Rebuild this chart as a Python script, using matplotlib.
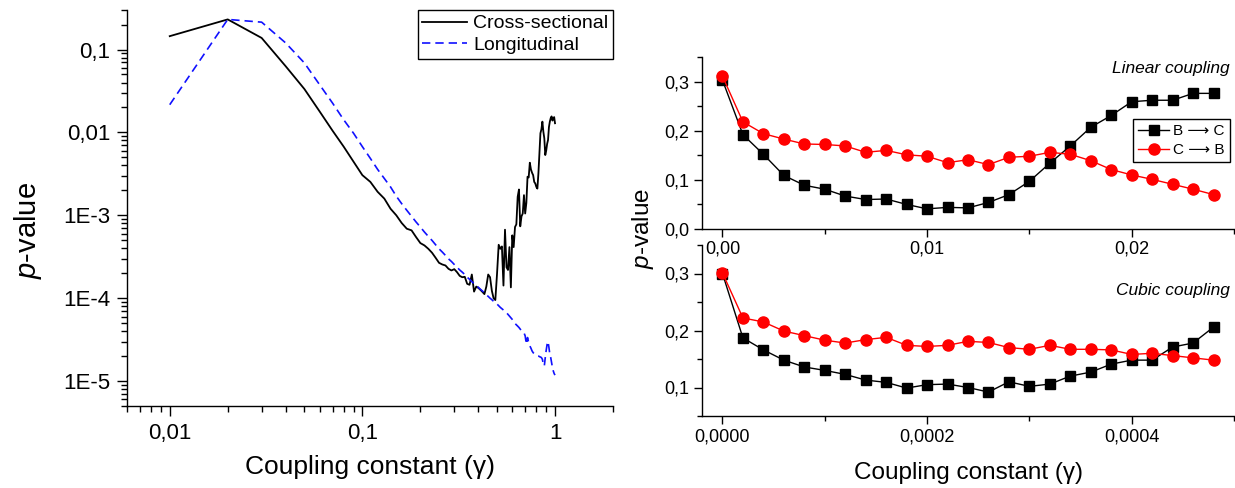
import matplotlib
matplotlib.use("Agg")
import matplotlib.pyplot as plt
from matplotlib.ticker import FixedLocator, FuncFormatter, MultipleLocator, LogLocator, NullFormatter

plt.rcParams['font.family'] = ['Liberation Sans', 'DejaVu Sans']
plt.rcParams['mathtext.fontset'] = 'custom'
plt.rcParams['mathtext.rm'] = 'Liberation Sans'
plt.rcParams['mathtext.it'] = 'Liberation Sans:italic'

# ---------------- data: left panel ----------------
gamma_left = [round(0.01 * i, 2) for i in range(1, 101)]
cross_sectional = [
    0.145, 0.231, 0.138, 0.0628, 0.0334, 0.0179, 0.0105, 0.00673, 0.00443, 0.00305,
    0.00253, 0.00192, 0.00159, 0.00120, 0.00100, 0.000807, 0.000689, 0.000658, 0.000546, 0.000462,
    0.000433, 0.000394, 0.000353, 0.000307, 0.000267, 0.000255, 0.000248, 0.000226, 0.000216, 0.000224,
    0.000206, 0.000186, 0.000179, 0.000181, 0.000149, 0.000145, 0.000193, 0.000120, 0.000138, 0.000133,
    0.000126, 0.000119, 0.000112, 0.000138, 0.000193, 0.000179, 0.000123, 0.0000995, 0.0000950, 0.000196,
    0.000441, 0.000394, 0.000421, 0.000142, 0.000670, 0.000236, 0.000219, 0.000413, 0.000135, 0.000573,
    0.000413, 0.000722, 0.000778, 0.00167, 0.00205, 0.000736, 0.000973, 0.00105, 0.00175, 0.00105,
    0.00141, 0.00292, 0.00286, 0.00431, 0.00358, 0.00326, 0.00305, 0.00253, 0.00242, 0.00220,
    0.00210, 0.00320, 0.00559, 0.00977, 0.0109, 0.0135, 0.0102, 0.00849, 0.00533, 0.00602,
    0.00726, 0.00811, 0.0116, 0.0135, 0.0149, 0.0156, 0.0139, 0.0149, 0.0153, 0.0129,
]
longitudinal = [
    0.0216, 0.231, 0.214, 0.120, 0.0689, 0.0376, 0.0226, 0.0142, 0.00977, 0.00673,
    0.00486, 0.00358, 0.00278, 0.00220, 0.00170, 0.00138, 0.00115, 0.000973, 0.000830, 0.000722,
    0.000628, 0.000556, 0.000497, 0.000441, 0.000394, 0.000360, 0.000328, 0.000298, 0.000277, 0.000255,
    0.000236, 0.000219, 0.000206, 0.000193, 0.000179, 0.000169, 0.000158, 0.000150, 0.000142, 0.000135,
    0.000128, 0.000122, 0.000116, 0.000110, 0.000105, 0.000100, 0.0000959, 0.0000916, 0.0000882, 0.0000849,
    0.0000811, 0.0000774, 0.0000746, 0.0000719, 0.0000692, 0.0000667, 0.0000637, 0.0000608, 0.0000580, 0.0000554,
    0.0000524, 0.0000495, 0.0000477, 0.0000460, 0.0000443, 0.0000423, 0.0000404, 0.0000393, 0.0000382, 0.0000351,
    0.0000278, 0.0000335, 0.0000292, 0.0000266, 0.0000249, 0.0000231, 0.0000220, 0.0000214, 0.0000210, 0.0000206,
    0.0000203, 0.0000201, 0.0000197, 0.0000195, 0.0000192, 0.0000183, 0.0000159, 0.0000152, 0.0000192, 0.0000235,
    0.0000278, 0.0000300, 0.0000254, 0.0000210, 0.0000192, 0.0000167, 0.0000145, 0.0000132, 0.0000123, 0.0000118,
]
left_xticks = [0.01, 0.1, 1]
left_xticklabels = ["0,01", "0,1", "1"]
left_yticks = [1e-5, 1e-4, 1e-3, 1e-2, 1e-1]
left_yticklabels = ["1E-5", "1E-4", "1E-3", "0,01", "0,1"]

# ---------------- data: right panels ----------------
gamma_linear = [round(0.001 * i, 3) for i in range(25)]
linear_BC = [0.303, 0.192, 0.152, 0.109, 0.089, 0.081, 0.067, 0.060, 0.061, 0.050,
             0.041, 0.044, 0.043, 0.054, 0.070, 0.097, 0.134, 0.169, 0.207, 0.231,
             0.259, 0.262, 0.262, 0.276, 0.276]
linear_CB = [0.311, 0.218, 0.194, 0.183, 0.173, 0.172, 0.169, 0.156, 0.160, 0.151,
             0.148, 0.135, 0.141, 0.131, 0.146, 0.148, 0.156, 0.152, 0.139, 0.121,
             0.110, 0.101, 0.091, 0.081, 0.070]
gamma_cubic = [round(0.00002 * i, 5) for i in range(25)]
cubic_BC = [0.300, 0.187, 0.166, 0.148, 0.136, 0.130, 0.123, 0.113, 0.109, 0.099,
            0.105, 0.106, 0.100, 0.092, 0.110, 0.102, 0.106, 0.120, 0.127, 0.141,
            0.148, 0.148, 0.171, 0.178, 0.206]
cubic_CB = [0.301, 0.222, 0.215, 0.199, 0.191, 0.183, 0.178, 0.184, 0.188, 0.174,
            0.172, 0.174, 0.181, 0.179, 0.170, 0.167, 0.174, 0.167, 0.167, 0.166,
            0.158, 0.160, 0.156, 0.152, 0.148]
series_labels = ["B \u27f6 C", "C \u27f6 B"]

W, H = 1235, 488
fig = plt.figure(figsize=(W / 100, H / 100), dpi=100)

def fr(x0, y0, x1, y1):
    return [x0 / W, (H - y1) / H, (x1 - x0) / W, (y1 - y0) / H]

axL = fig.add_axes(fr(127, 10, 613, 406))
axB = fig.add_axes(fr(702, 245, 1234, 416))
axT = fig.add_axes(fr(702, 57, 1234, 229))
axB.patch.set_alpha(0)
axT.patch.set_alpha(0)

for ax in (axL, axT, axB):
    for s in ("top", "right"):
        ax.spines[s].set_visible(False)
    for s in ("left", "bottom"):
        ax.spines[s].set_linewidth(1.0)

# ---- left panel ----
axL.plot(gamma_left, cross_sectional, color="black", lw=1.3, label="Cross-sectional")
axL.plot(gamma_left, longitudinal, color="#1010ff", lw=1.2, ls=(0, (5, 3)), label="Longitudinal")
axL.set_xscale("log")
axL.set_yscale("log")
axL.set_xlim(0.006, 2.0)
axL.set_ylim(5e-6, 0.3)
axL.xaxis.set_major_locator(FixedLocator(left_xticks))
axL.set_xticklabels(left_xticklabels)
axL.yaxis.set_major_locator(FixedLocator(left_yticks))
axL.set_yticklabels(left_yticklabels)
axL.xaxis.set_minor_locator(LogLocator(base=10, subs=range(2, 10)))
axL.yaxis.set_minor_locator(LogLocator(base=10, subs=range(2, 10)))
axL.xaxis.set_minor_formatter(NullFormatter())
axL.yaxis.set_minor_formatter(NullFormatter())
axL.tick_params(which="major", direction="out", length=7, width=1, labelsize=16, pad=5)
axL.tick_params(which="minor", direction="out", length=4, width=1)
leg = axL.legend(loc="upper right", bbox_to_anchor=(1.0, 1.0), borderaxespad=0,
                 fontsize=14, frameon=True, fancybox=False, edgecolor="black",
                 framealpha=1, handlelength=2.3, handletextpad=0.3, borderpad=0.25,
                 labelspacing=0.2)
leg.get_frame().set_linewidth(1.0)
axL.set_xlabel("Coupling constant (\u03b3)", fontsize=19, labelpad=8)
fig.text(28 / W, 1 - 231 / H, r"$\mathit{p}$-value", rotation=90, fontsize=21,
         ha="center", va="center")

# ---- right panels ----
def comma_fmt(dec):
    return FuncFormatter(lambda v, p: f"{v:.{dec}f}".replace(".", ","))

for ax, gx, bc, cb in ((axT, gamma_linear, linear_BC, linear_CB),
                       (axB, gamma_cubic, cubic_BC, cubic_CB)):
    ax.plot(gx, bc, color="black", lw=1.0, marker="s", ms=7, mfc="black", mec="black",
            label=series_labels[0])
    ax.plot(gx, cb, color="red", lw=1.0, marker="o", ms=8, mfc="red", mec="red",
            label=series_labels[1])
    ax.tick_params(which="major", direction="out", length=6, width=1, labelsize=13, pad=3)
    ax.tick_params(which="minor", direction="out", length=3.5, width=1)
    ax.yaxis.set_major_formatter(comma_fmt(1))

axT.set_xlim(-0.001, 0.025)
axT.set_ylim(0, 0.35)
axT.xaxis.set_major_locator(MultipleLocator(0.01))
axT.xaxis.set_minor_locator(MultipleLocator(0.005))
axT.xaxis.set_major_formatter(comma_fmt(2))
axT.yaxis.set_major_locator(MultipleLocator(0.1))
axT.yaxis.set_minor_locator(MultipleLocator(0.05))
axT.tick_params(axis="x", which="major", pad=2)

axB.set_xlim(-0.00002, 0.0005)
axB.set_ylim(0.05, 0.35)
axB.xaxis.set_major_locator(MultipleLocator(0.0002))
axB.xaxis.set_minor_locator(MultipleLocator(0.0001))
axB.xaxis.set_major_formatter(comma_fmt(4))
axB.yaxis.set_major_locator(FixedLocator([0.1, 0.2, 0.3]))
axB.yaxis.set_minor_locator(FixedLocator([0.05, 0.15, 0.25, 0.35]))

legR = axT.legend(loc="upper left", bbox_to_anchor=((1133 - 702) / 532, 1 - (119 - 57) / 172),
                  borderaxespad=0, fontsize=11, frameon=True, fancybox=False,
                  edgecolor="black", framealpha=1, handlelength=2.0, handletextpad=0.3,
                  borderpad=0.35, labelspacing=0.3)
legR.get_frame().set_linewidth(1.0)

fig.text(1230 / W, 1 - 68 / H, "Linear coupling", fontsize=12.5, style="italic",
         ha="right", va="center")
fig.text(1230 / W, 1 - 290 / H, "Cubic coupling", fontsize=12.5, style="italic",
         ha="right", va="center")
fig.text(643 / W, 1 - 228 / H, r"$\mathit{p}$-value", rotation=90, fontsize=17.5,
         ha="center", va="center")
axB.set_xlabel("Coupling constant (\u03b3)", fontsize=17.5, labelpad=12)

fig.savefig("out.png", dpi=100)
